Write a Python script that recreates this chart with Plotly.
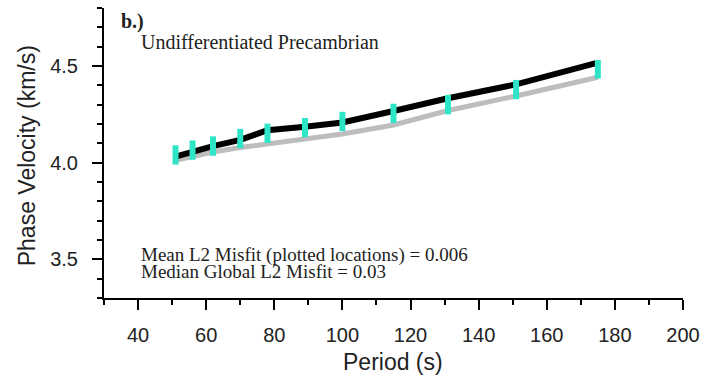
import plotly.graph_objects as go

# Data
periods = [51, 56, 62, 70, 78, 89, 100, 115, 131, 151, 175]
observed = [4.040, 4.065, 4.086, 4.125, 4.152, 4.181, 4.213, 4.255, 4.300, 4.378, 4.483]
obs_err = [0.05, 0.05, 0.05, 0.05, 0.05, 0.05, 0.05, 0.05, 0.05, 0.05, 0.048]
model_black = [4.031, 4.058, 4.086, 4.118, 4.168, 4.186, 4.208, 4.267, 4.333, 4.405, 4.517]
model_gray = [4.012, 4.032, 4.055, 4.078, 4.098, 4.122, 4.148, 4.195, 4.270, 4.345, 4.442]

x_ticks = [40, 60, 80, 100, 120, 140, 160, 180, 200]
y_ticks = [3.5, 4.0, 4.5]

CYAN = "#2FE5C7"
SERIF = "Liberation Serif, Times New Roman, serif"
SANS = "Liberation Sans, Arial, Helvetica, sans-serif"

fig = go.Figure()
fig.add_trace(go.Scatter(x=periods, y=model_gray, mode="lines",
                         line=dict(color="#BDBDBD", width=5), showlegend=False))
fig.add_trace(go.Scatter(x=periods, y=model_black, mode="lines",
                         line=dict(color="black", width=6), showlegend=False))
fig.add_trace(go.Scatter(x=periods, y=observed, mode="markers",
                         marker=dict(size=1, color="rgba(0,0,0,0)"),
                         error_y=dict(type="data", array=obs_err, color=CYAN,
                                      thickness=6, width=0),
                         showlegend=False))

axis_common = dict(showline=True, linecolor="black", linewidth=2, ticks="outside",
                   ticklen=10, tickwidth=2, tickcolor="black", showgrid=False,
                   zeroline=False, mirror=False,
                   tickfont=dict(family=SANS, size=20, color="#222"))

fig.update_xaxes(range=[30, 200], tickvals=x_ticks, ticklabelstandoff=8,
                 minor=dict(dtick=10, tick0=0, ticks="outside", ticklen=5,
                            tickwidth=2, tickcolor="black"),
                 **axis_common)
fig.update_yaxes(range=[3.3, 4.8], tickvals=y_ticks, tickformat=".1f",
                 ticklabelstandoff=10,
                 minor=dict(dtick=0.1, tick0=0, ticks="outside", ticklen=5,
                            tickwidth=2, tickcolor="black"),
                 **axis_common)

L, R, T, B = 104, 23, 8, 83
W, H = 708, 381
pw, ph = W - L - R, H - T - B

def px(x):
    return (x - L) / pw

def py(y):
    return (H - B - y) / ph

annotations = [
    dict(text="<b>b.)</b>", x=px(119), y=py(22), xanchor="left", yanchor="middle",
         font=dict(family=SERIF, size=20, color="#222")),
    dict(text="Undifferentiated Precambrian", x=px(139), y=py(42), xanchor="left",
         yanchor="middle", font=dict(family=SERIF, size=20, color="#222")),
    dict(text="Mean L2 Misfit (plotted locations) = 0.006", x=px(139), y=py(255),
         xanchor="left", yanchor="middle", font=dict(family=SERIF, size=19, color="#222")),
    dict(text="Median Global L2 Misfit = 0.03", x=px(139), y=py(271),
         xanchor="left", yanchor="middle", font=dict(family=SERIF, size=19, color="#222")),
    dict(text="Phase Velocity (km/s)", x=px(27), y=py(156), textangle=-90,
         xanchor="center", yanchor="middle", font=dict(family=SANS, size=23, color="#222")),
    dict(text="Period (s)", x=px(394), y=py(362), xanchor="center", yanchor="middle",
         font=dict(family=SANS, size=23, color="#222")),
]
for a in annotations:
    a.update(xref="paper", yref="paper", showarrow=False)

fig.update_layout(width=W, height=H, margin=dict(l=L, r=R, t=T, b=B),
                  paper_bgcolor="white", plot_bgcolor="white",
                  annotations=annotations)

fig.write_html("out.html")
